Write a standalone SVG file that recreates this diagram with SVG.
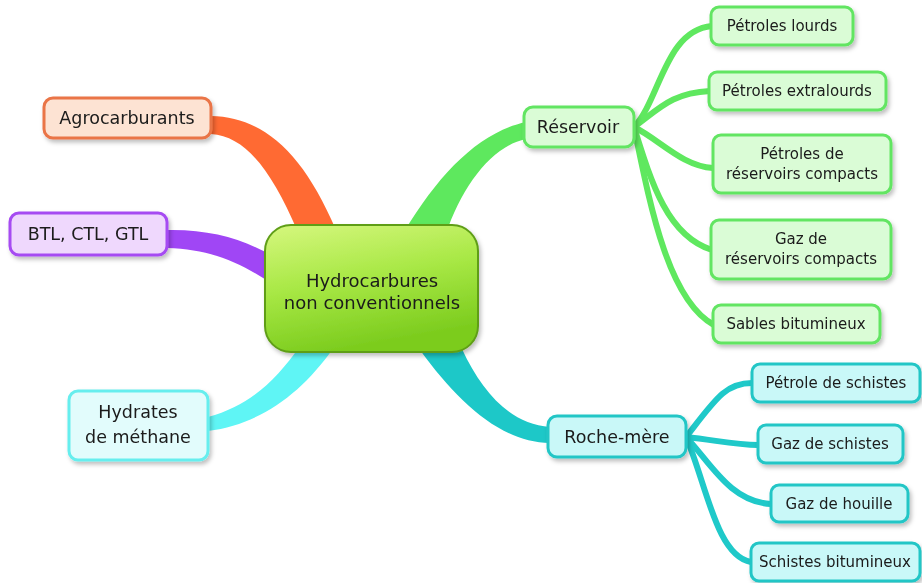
<svg xmlns="http://www.w3.org/2000/svg" width="922" height="583" viewBox="0 0 922 583">
<defs>
<linearGradient id="cg" x1="0" y1="0" x2="0.3" y2="1">
<stop offset="0" stop-color="#d6f77e"/>
<stop offset="0.5" stop-color="#a8e845"/>
<stop offset="1" stop-color="#7ccc1e"/>
</linearGradient>
<filter id="sh" x="-10%" y="-10%" width="130%" height="140%">
<feDropShadow dx="2" dy="3" stdDeviation="2" flood-color="#000" flood-opacity="0.25"/>
</filter>
<style>
text{font-family:"DejaVu Sans",Verdana,sans-serif;fill:#1a1a1a;text-anchor:middle}
.p{font-size:17.5px}
.c{font-size:15px}
.box{stroke-width:3}
.g rect{fill:#dafcd6;stroke:#62e562}
.t rect{fill:#c9f8f8;stroke:#22c6c6}
.lg{fill:none;stroke:#5fe85f;stroke-width:6;stroke-linecap:round}
.lt{fill:none;stroke:#1fc9c9;stroke-width:6;stroke-linecap:round}
</style>
</defs>
<g id="connectors">
<path d="M211,116 C262,117 302,150 336,230 L297,230 C272,172 246,136 211,134 Z" fill="#ff6a33"/>
<path d="M167,230 C212,229 246,240 276,258 L268,281 C240,263 210,249 167,248 Z" fill="#a046f5"/>
<path d="M208,417 C250,406 276,380 300,346 L332,350 C302,392 262,424 208,431 Z" fill="#5ff5f5"/>
<path d="M404,232 C440,172 480,132 526,122 L526,139 C492,146 462,186 446,234 Z" fill="#5ee85e"/>
<path d="M462,349 C482,392 510,424 550,427 L550,443 C500,442 458,402 420,350 Z" fill="#1dc8c8"/>
<path class="lg" d="M634,127 C660,100 665,30 712,26"/>
<path class="lg" d="M634,127 C660,108 672,93 710,91"/>
<path class="lg" d="M634,127 C660,140 682,166 713,168"/>
<path class="lg" d="M634,127 C652,185 668,236 712,250"/>
<path class="lg" d="M634,127 C650,205 668,300 714,325"/>
<path class="lt" d="M686,437 C715,400 725,383 752,383"/>
<path class="lt" d="M686,437 C715,440 735,445 758,445"/>
<path class="lt" d="M686,437 C710,462 730,502 771,504"/>
<path class="lt" d="M686,437 C706,482 716,556 751,562"/>
</g>
<g id="center" filter="url(#sh)">
<rect x="265" y="225" width="213" height="127" rx="26" fill="url(#cg)" stroke="#5f9e18" stroke-width="2"/>
<text x="372" y="287" style="font-size:18px">Hydrocarbures</text>
<text x="372" y="309" style="font-size:18px">non conventionnels</text>
</g>
<g id="agro" filter="url(#sh)">
<rect class="box" x="44" y="98" width="167" height="40" rx="9" fill="#fde3d3" stroke="#ea7447"/>
<text class="p" x="127" y="124">Agrocarburants</text>
</g>
<g id="btl" filter="url(#sh)">
<rect class="box" x="10" y="213" width="157" height="42" rx="9" fill="#efd8fd" stroke="#a64cf2"/>
<text class="p" x="88" y="240">BTL, CTL, GTL</text>
</g>
<g id="hydrates" filter="url(#sh)">
<rect class="box" x="69" y="391" width="139" height="69" rx="9" fill="#e2fcfc" stroke="#66eeee"/>
<text class="p" x="138" y="418">Hydrates</text>
<text class="p" x="138" y="443">de méthane</text>
</g>
<g id="reservoir" class="g" filter="url(#sh)">
<rect class="box" x="524" y="107" width="110" height="40" rx="9"/>
<text class="p" x="578" y="133">Réservoir</text>
</g>
<g id="lourds" class="g" filter="url(#sh)">
<rect class="box" x="711" y="7" width="142" height="38" rx="8"/>
<text class="c" x="782" y="31">Pétroles lourds</text>
</g>
<g id="extralourds" class="g" filter="url(#sh)">
<rect class="box" x="709" y="72" width="177" height="38" rx="8"/>
<text class="c" x="797" y="96">Pétroles extralourds</text>
</g>
<g id="petroles-compacts" class="g" filter="url(#sh)">
<rect class="box" x="713" y="135" width="178" height="58" rx="8"/>
<text class="c" x="802" y="159">Pétroles de</text>
<text class="c" x="802" y="179">réservoirs compacts</text>
</g>
<g id="gaz-compacts" class="g" filter="url(#sh)">
<rect class="box" x="711" y="220" width="180" height="59" rx="8"/>
<text class="c" x="801" y="244">Gaz de</text>
<text class="c" x="801" y="264">réservoirs compacts</text>
</g>
<g id="sables" class="g" filter="url(#sh)">
<rect class="box" x="713" y="305" width="167" height="38" rx="8"/>
<text class="c" x="796" y="329">Sables bitumineux</text>
</g>
<g id="roche" class="t" filter="url(#sh)">
<rect class="box" x="548" y="416" width="138" height="41" rx="9"/>
<text class="p" x="617" y="443">Roche-mère</text>
</g>
<g id="petrole-schistes" class="t" filter="url(#sh)">
<rect class="box" x="752" y="364" width="168" height="38" rx="8"/>
<text class="c" x="836" y="388">Pétrole de schistes</text>
</g>
<g id="gaz-schistes" class="t" filter="url(#sh)">
<rect class="box" x="758" y="425" width="145" height="38" rx="8"/>
<text class="c" x="830" y="449">Gaz de schistes</text>
</g>
<g id="houille" class="t" filter="url(#sh)">
<rect class="box" x="771" y="485" width="137" height="37" rx="8"/>
<text class="c" x="839" y="509">Gaz de houille</text>
</g>
<g id="schistes-bitumineux" class="t" filter="url(#sh)">
<rect class="box" x="751" y="543" width="169" height="38" rx="8"/>
<text class="c" x="835" y="567">Schistes bitumineux</text>
</g>
</svg>
